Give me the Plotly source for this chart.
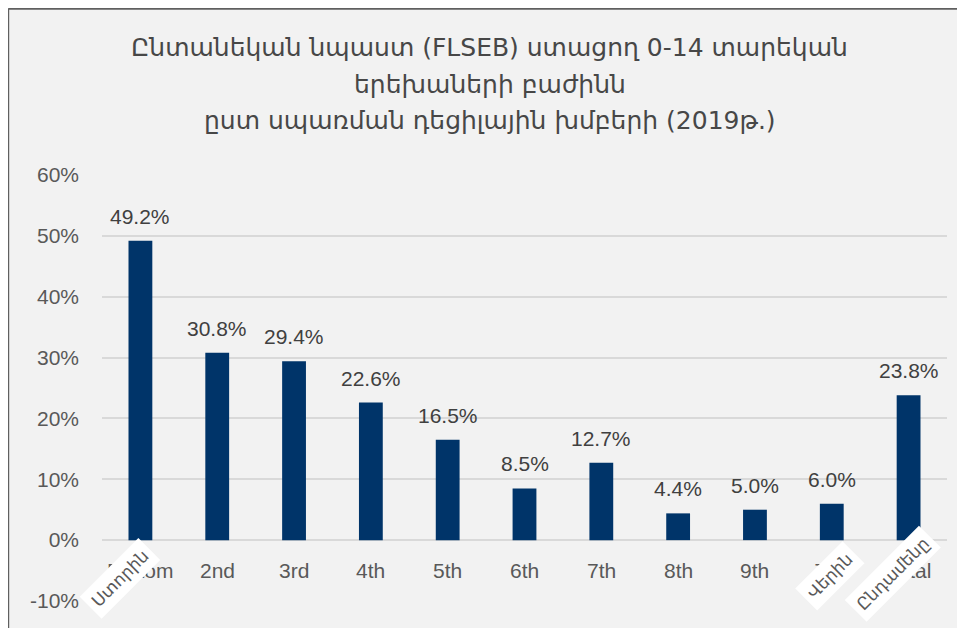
import plotly.graph_objects as go

categories = ["Bottom", "2nd", "3rd", "4th", "5th", "6th", "7th", "8th", "9th", "Top", "Total"]
shares = [0.492, 0.308, 0.294, 0.226, 0.165, 0.085, 0.127, 0.044, 0.050, 0.060, 0.238]
y_ticks = [-0.1, 0.0, 0.1, 0.2, 0.3, 0.4, 0.5, 0.6]
tick_labels = ["-10%", "0%", "10%", "20%", "30%", "40%", "50%", "60%"]
# Armenian overlays pasted over some category labels
overlay_cats = ["Bottom", "Top", "Total"]
overlay_text = ["Ստորին", "Վերին", "Ընդամենը"]
title_lines = ["Ընտանեկան նպաստ (FLSEB) ստացող 0-14 տարեկան",
               "երեխաների բաժինն",
               "ըստ սպառման դեցիլային խմբերի (2019թ.)"]

BAR = "#003469"
TXT = "#404040"
AX = "#595959"
FONT = "Liberation Sans, DejaVu Sans, Arial"
overlay_shift = {"Bottom": (-20, -38), "Top": (-2, -36), "Total": (-16, -34)}

fig = go.Figure()
fig.add_trace(go.Bar(x=categories, y=shares, marker=dict(color=BAR, line=dict(width=0)),
                     hoverinfo="skip"))

ann = []
# title, one annotation per line to get the wide line spacing
for i, line in enumerate(title_lines):
    ann.append(dict(x=0.459, y=1.300 - i * 0.0865, xref="paper", yref="paper", text=line,
                    showarrow=False, xanchor="center", yanchor="middle",
                    font=dict(size=25, color="#474747", family="DejaVu Sans")))
# value labels above bars
for c, v in zip(categories, shares):
    ann.append(dict(x=c, y=v, xref="x", yref="y", text=f"{v * 100:.1f}%", showarrow=False,
                    yanchor="bottom", yshift=11, font=dict(size=21, color=TXT, family=FONT)))
# category labels sit just below the zero line
for c in categories:
    ann.append(dict(x=c, y=0, xref="x", yref="y", text=c, showarrow=False,
                    yanchor="top", yshift=-17, font=dict(size=21, color=AX, family=FONT)))
# rotated Armenian labels on white patches
for c, t in zip(overlay_cats, overlay_text):
    dx, dy = overlay_shift[c]
    ann.append(dict(x=c, y=0, xref="x", yref="y", text=t, showarrow=False,
                    xshift=dx, yshift=dy, textangle=-45, bgcolor="white", borderpad=5,
                    font=dict(size=17, color=AX, family="DejaVu Sans")))

fig.update_layout(
    width=957, height=620,
    paper_bgcolor="#f2f2f2", plot_bgcolor="#f2f2f2",
    margin=dict(l=94, r=18, t=167, b=27),
    showlegend=False,
    bargap=0.69,
    annotations=ann,
    shapes=[
        dict(type="line", xref="paper", yref="paper", x0=-0.111, x1=1.03, y0=1.39, y1=1.39,
             line=dict(color="#5f5f5f", width=2)),
        dict(type="line", xref="paper", yref="paper", x0=-0.111, x1=-0.111, y0=-0.07, y1=1.39,
             line=dict(color="#5f5f5f", width=2)),
    ],
)
fig.update_xaxes(range=[-0.5, len(categories) - 0.5], autorange=False,
                 showticklabels=False, showgrid=False, zeroline=False, showline=False)
fig.update_yaxes(range=[-0.1, 0.6], autorange=False, tickvals=y_ticks, ticktext=tick_labels,
                 showgrid=True, gridcolor="#d9d9d9", gridwidth=1.5, zeroline=False,
                 tickfont=dict(size=21, color=AX, family=FONT), ticklabelstandoff=22)

fig.write_html("out.html")
